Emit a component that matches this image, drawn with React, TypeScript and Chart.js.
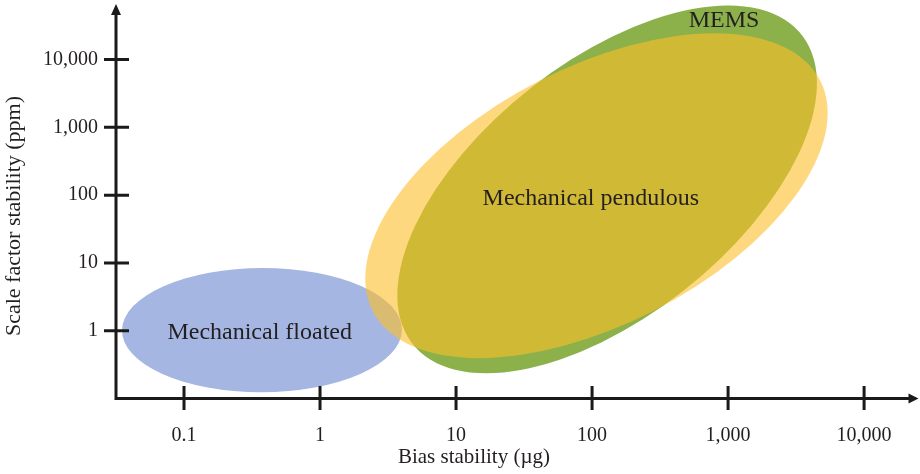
import { useEffect, useRef } from "react";
import { Chart, registerables } from "chart.js";

Chart.register(...registerables);

// Performance regions of accelerator technologies (log-log)
const regionNames = ["Mechanical floated", "MEMS", "Mechanical pendulous"];
// Bias stability extent of each region (µg)
const biasLow = [0.035, 3.7, 2.15];
const biasHigh = [4.0, 4500, 5400];
// Scale factor stability extent of each region (ppm)
const scaleLow = [0.124, 0.236, 0.393];
const scaleHigh = [8.4, 63000, 24400];
// Bias stability at which each region reaches its highest scale factor value
const biasAtTopEdge = [0.38, 1000, 790];
// Where each region's name sits
const labelBias = [0.36, 935, 98];
const labelScale = [0.95, 38000, 90];

const regionColors = ["rgb(164,182,225)", "rgb(140,177,74)", "rgba(253,190,40,0.6)"];

const biasTicks = [0.1, 1, 10, 100, 1000, 10000];
const scaleTicks = [1, 10, 100, 1000, 10000];
const biasRange = [Math.pow(10, -1.5), Math.pow(10, 4.4)];
const scaleRange = [0.1, Math.pow(10, 4.82)];

const xTitle = "Bias stability (\u00b5g)";
const yTitle = "Scale factor stability (ppm)";

const SERIF = "'Liberation Serif', 'Times New Roman', serif";
const INK = "#231f20";
const AXIS = "#1a1a1a";

const fmt = (v: number) => Number(v).toLocaleString("en-US");

const clearPadding = (s: any) => {
  s.paddingTop = 0;
  s.paddingBottom = 0;
  s.paddingLeft = 0;
  s.paddingRight = 0;
};

const regionsPlugin = {
  id: "regions",
  beforeDatasetsDraw(chart: any) {
    const { ctx } = chart;
    const xs = chart.scales.x;
    const ys = chart.scales.y;
    ctx.save();
    regionNames.forEach((_, i) => {
      const x0 = xs.getPixelForValue(biasLow[i]);
      const x1 = xs.getPixelForValue(biasHigh[i]);
      const yT = ys.getPixelForValue(scaleHigh[i]);
      const yB = ys.getPixelForValue(scaleLow[i]);
      const cx = (x0 + x1) / 2;
      const cy = (yT + yB) / 2;
      const w = (x1 - x0) / 2;
      const h = (yB - yT) / 2;
      const k = xs.getPixelForValue(biasAtTopEdge[i]) - cx;
      ctx.save();
      ctx.translate(cx, cy);
      ctx.transform(Math.sqrt(Math.max(w * w - k * k, 1)), 0, k, -h, 0, 0);
      ctx.beginPath();
      ctx.arc(0, 0, 1, 0, Math.PI * 2);
      ctx.restore();
      ctx.fillStyle = regionColors[i];
      ctx.fill();
    });
    ctx.fillStyle = INK;
    ctx.font = `24px ${SERIF}`;
    ctx.textAlign = "center";
    ctx.textBaseline = "middle";
    regionNames.forEach((name, i) => {
      ctx.fillText(name, xs.getPixelForValue(labelBias[i]), ys.getPixelForValue(labelScale[i]));
    });
    ctx.restore();
  },
  afterDraw(chart: any) {
    const { ctx, chartArea } = chart;
    const xs = chart.scales.x;
    const ys = chart.scales.y;
    const left = chartArea.left;
    const bottom = chartArea.bottom;
    const right = chartArea.right;
    const top = chartArea.top;
    ctx.save();
    ctx.strokeStyle = AXIS;
    ctx.fillStyle = AXIS;
    ctx.lineWidth = 3;
    ctx.lineCap = "butt";
    // axis lines
    ctx.beginPath();
    ctx.moveTo(left, bottom + 1.5);
    ctx.lineTo(left, top + 8);
    ctx.moveTo(left - 1.5, bottom);
    ctx.lineTo(right - 8, bottom);
    ctx.stroke();
    // arrow heads
    ctx.beginPath();
    ctx.moveTo(left, top);
    ctx.lineTo(left - 5, top + 11);
    ctx.lineTo(left + 5, top + 11);
    ctx.closePath();
    ctx.fill();
    ctx.beginPath();
    ctx.moveTo(right, bottom);
    ctx.lineTo(right - 10, bottom - 5);
    ctx.lineTo(right - 10, bottom + 5);
    ctx.closePath();
    ctx.fill();
    // tick marks crossing the axes
    ctx.beginPath();
    biasTicks.forEach((v) => {
      const px = xs.getPixelForValue(v);
      ctx.moveTo(px, bottom - 12.5);
      ctx.lineTo(px, bottom + 11.5);
    });
    scaleTicks.forEach((v) => {
      const py = ys.getPixelForValue(v);
      ctx.moveTo(left - 12, py);
      ctx.lineTo(left + 13, py);
    });
    ctx.stroke();
    // axis titles
    ctx.fillStyle = INK;
    ctx.textAlign = "center";
    ctx.textBaseline = "middle";
    ctx.font = `21px ${SERIF}`;
    ctx.fillText(xTitle, 474, 457);
    ctx.font = `22px ${SERIF}`;
    ctx.translate(14, 216);
    ctx.rotate(-Math.PI / 2);
    ctx.fillText(yTitle, 0, 0);
    ctx.restore();
  },
};

export default function App() {
  const ref = useRef<HTMLCanvasElement | null>(null);

  useEffect(() => {
    if (!ref.current) return;
    const chart = new Chart(ref.current, {
      type: "scatter",
      data: { datasets: [] },
      plugins: [regionsPlugin],
      options: {
        responsive: false,
        animation: false,
        layout: { padding: { top: 4, right: 1.5, left: 0, bottom: 0 } },
        plugins: {
          legend: { display: false },
          tooltip: { enabled: false },
        },
        scales: {
          x: {
            type: "logarithmic",
            min: biasRange[0],
            max: biasRange[1],
            grid: { display: false, drawTicks: false },
            border: { display: false },
            afterFit: (s: any) => {
              s.height = 75.5;
              clearPadding(s);
            },
            afterBuildTicks: (s: any) => {
              s.ticks = biasTicks.map((v) => ({ value: v }));
            },
            ticks: {
              autoSkip: false,
              maxRotation: 0,
              padding: 25,
              color: INK,
              font: { family: SERIF, size: 20 },
              callback: (v: any) => fmt(v),
            },
          },
          y: {
            type: "logarithmic",
            min: scaleRange[0],
            max: scaleRange[1],
            grid: { display: false, drawTicks: false },
            border: { display: false },
            afterFit: (s: any) => {
              s.width = 116;
              clearPadding(s);
            },
            afterBuildTicks: (s: any) => {
              s.ticks = scaleTicks.map((v) => ({ value: v }));
            },
            ticks: {
              autoSkip: false,
              padding: 18,
              color: INK,
              font: { family: SERIF, size: 20 },
              callback: (v: any) => fmt(v),
            },
          },
        },
      },
    });
    return () => chart.destroy();
  }, []);

  return (
    <div style={{ position: "absolute", left: 0, top: 0, width: 920, height: 474, background: "#fff" }}>
      <canvas ref={ref} width={920} height={474} />
    </div>
  );
}
